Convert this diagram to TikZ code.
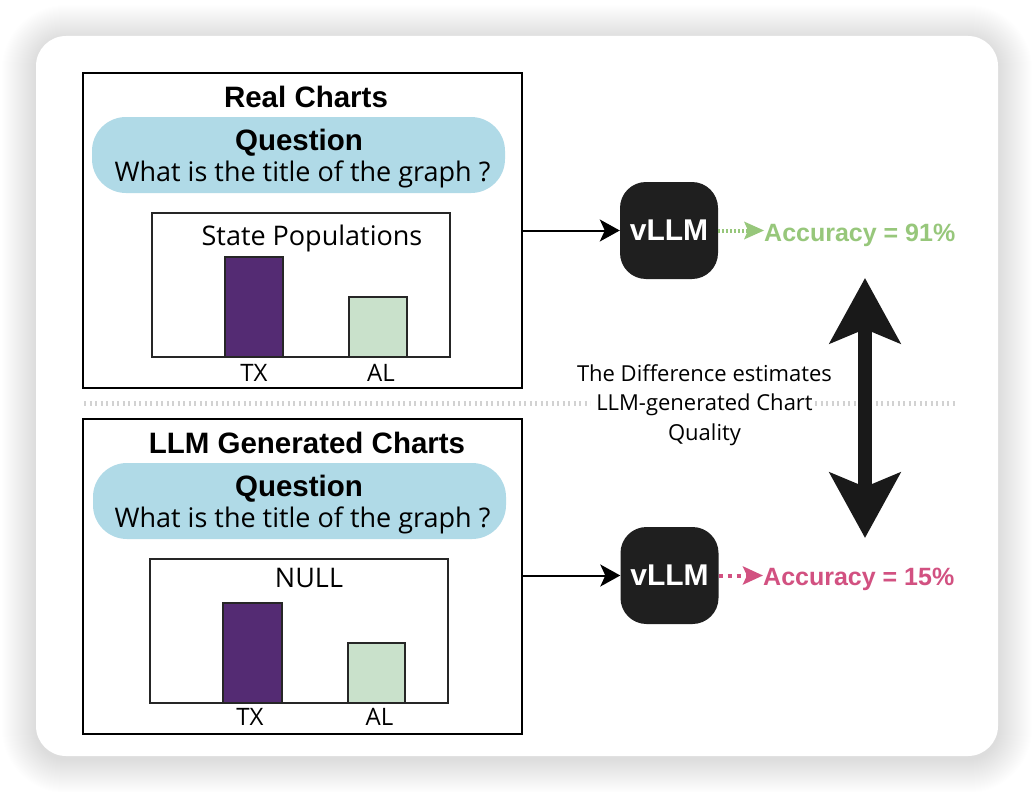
\documentclass[tikz,border=0pt]{standalone}
\usepackage{fontspec}
\setmainfont{Open Sans}
\newfontfamily\headfont{Liberation Sans}
\usetikzlibrary{arrows.meta}

\definecolor{bubble}{HTML}{B0DAE7}
\definecolor{barpurple}{HTML}{542B73}
\definecolor{bargreen}{HTML}{C9E1CB}
\definecolor{accgreen}{HTML}{97C77B}
\definecolor{accpink}{HTML}{D25181}
\definecolor{sepgray}{HTML}{D2D2D2}

\begin{document}
\begin{tikzpicture}[x=1pt,y=-1pt,
    panel/.style={draw, line width=2pt, minimum width=439pt, minimum height=315pt},
    bubblebox/.style={fill=bubble, rounded corners=34pt, minimum width=413pt, minimum height=76pt},
    vllm/.style={fill=black!88, rounded corners=26pt, minimum width=98pt, minimum height=97pt,
        text=white, font=\headfont\bfseries\fontsize{30}{36}\selectfont},
    title/.style={anchor=base, inner sep=0pt, font=\headfont\bfseries\fontsize{29.5}{34}\selectfont},
    qtext/.style={anchor=base, inner sep=0pt, font=\fontsize{27}{32}\selectfont},
    axislabel/.style={anchor=base, inner sep=0pt, font=\fontsize{24}{28}\selectfont},
    acc/.style={anchor=base west, inner sep=0pt, font=\headfont\bfseries\fontsize{25}{30}\selectfont},
    bar/.style={draw=black!85, line width=1.5pt},
    sep/.style={draw=sepgray, line width=5pt, dash pattern=on 2pt off 3.5pt}]

    \useasboundingbox (0,0) rectangle (1034,792);
    % shadow and card
    \foreach \i in {1,...,34}
        \fill[black, opacity=0.0035, rounded corners=30pt+\i pt] (36-\i,36-\i+3) rectangle (998+\i,756+\i+3);
    \fill[white, rounded corners=30pt] (36,36) rectangle (998,756);

    % separator
    \draw[sep] (84,403) -- (590,403);
    \draw[sep] (815,403) -- (955,403);

    % real charts
    \node[panel] (real) at (302.5,230.5) {};
    \node[title] (realtitle) at (306,107) {Real Charts};
    \node[bubblebox] (realq) at (298.5,155) {};
    \node[title] (realqhead) at (299,150) {Question};
    \node[qtext] (realqtext) at (302.5,181) {What is the title of the graph ?};
    \draw[draw=black!85, line width=2pt] (152,213) rectangle (450,357);
    \fill[barpurple] (225,257) rectangle (283,357);
    \draw[bar] (225,257) rectangle (283,357);
    \fill[bargreen] (349,297) rectangle (407,357);
    \draw[bar] (349,297) rectangle (407,357);
    \node[qtext] (realname) at (312,245) {State Populations};
    \node[axislabel] (realtx) at (254,381) {TX};
    \node[axislabel] (realal) at (381,381) {AL};

    % generated charts
    \node[panel] (gen) at (302.5,576.5) {};
    \node[title] (gentitle) at (307,453) {LLM Generated Charts};
    \node[bubblebox] (genq) at (299.5,501) {};
    \node[title] (genqhead) at (299,496) {Question};
    \node[qtext] (genqtext) at (302.5,527) {What is the title of the graph ?};
    \draw[draw=black!85, line width=2pt] (150,559) rectangle (448,703);
    \fill[barpurple] (223,603) rectangle (282,703);
    \draw[bar] (223,603) rectangle (282,703);
    \fill[bargreen] (348,643) rectangle (405,703);
    \draw[bar] (348,643) rectangle (405,703);
    \node[qtext] (genname) at (309,587) {NULL};
    \node[axislabel] (gentx) at (250,725) {TX};
    \node[axislabel] (genal) at (379.5,725) {AL};

    % vLLM and accuracy
    \node[vllm] (vtop) at (669,230.5) {vLLM};
    \node[vllm] (vbot) at (669.5,575.5) {vLLM};
    \node[acc, text=accgreen] (acctop) at (764,241) {Accuracy = 91\%};
    \node[acc, text=accpink] (accbot) at (763,585) {Accuracy = 15\%};

    \draw[line width=2pt, -{Stealth[length=20pt, width=22pt, inset=5pt]}] (real.east |- vtop.west) -- (vtop.west);
    \draw[line width=2pt, -{Stealth[length=20pt, width=22pt, inset=5pt]}] (gen.east |- vbot.west) -- (vbot.west);
    \draw[accgreen, line width=4pt, dash pattern=on 2pt off 2pt,
        -{Stealth[length=20pt, width=18pt, inset=4pt, line width=0pt, sep=0pt]}] (vtop.east) -- (vtop.east -| acctop.west);
    \draw[accpink, line width=4pt, dash pattern=on 4pt off 5pt,
        -{Stealth[length=20pt, width=18pt, inset=4pt]}] (vbot.east) -- (vbot.east -| accbot.west);

    % difference
    \node[anchor=base, align=center, inner sep=0pt, font=\fontsize{22}{29.5}\selectfont] (diff) at (704.5,440)
        {The Difference estimates\\LLM-generated Chart\\Quality};
    \coordinate (bigtop) at (865,278);
    \coordinate (bigbot) at (865,538);
    \draw[black!90, line width=14pt, {Stealth[length=65pt, width=70pt, inset=14pt]}-{Stealth[length=65pt, width=70pt, inset=14pt]}] (bigtop) -- (bigbot);
\end{tikzpicture}
\end{document}
